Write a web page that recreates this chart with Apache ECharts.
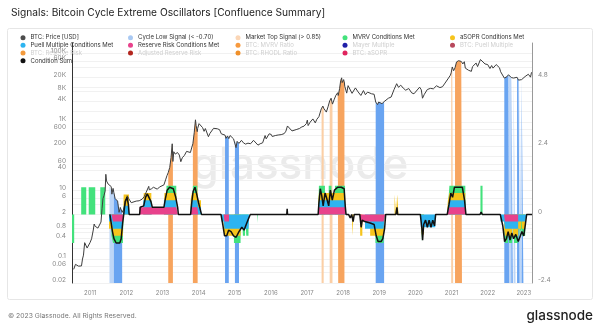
<!DOCTYPE html>
<html><head><meta charset="utf-8">
<script src="https://cdn.jsdelivr.net/npm/echarts@6/dist/echarts.min.js"></script>
<style>html,body{margin:0;padding:0;background:#fff}#c{width:600px;height:329px}</style>
</head><body><div id="c"></div>
<script>
// ---------------- DATA ----------------
const priceUSD = [
['2010-07-18',0.05],['2010-07-25',0.054],['2010-08-05',0.07],['2010-08-20',0.067],['2010-09-05',0.062],['2010-09-20',0.062],['2010-10-05',0.063],['2010-10-15',0.1],['2010-10-25',0.13],['2010-11-06',0.3],['2010-11-12',0.27],['2010-11-20',0.28],['2010-12-01',0.21],['2010-12-15',0.24],['2010-12-30',0.3],
['2011-01-15',0.39],['2011-02-01',0.7],['2011-02-10',1.05],['2011-02-20',0.9],['2011-03-05',0.9],['2011-03-20',0.8],['2011-04-05',0.72],['2011-04-20',1.2],['2011-05-01',3.0],['2011-05-10',5.8],['2011-05-20',7.0],['2011-06-01',9.6],['2011-06-08',29.6],['2011-06-15',19],['2011-06-22',17],['2011-07-01',15.4],['2011-07-15',13.8],['2011-08-01',13],['2011-08-08',7.8],['2011-08-20',11.5],['2011-08-28',8.7],['2011-09-10',5.8],['2011-09-25',5.1],['2011-10-05',4.9],['2011-10-20',2.3],['2011-11-01',3.2],['2011-11-20',2.3],['2011-12-05',2.8],['2011-12-20',3.9],
['2012-01-10',7],['2012-01-25',5.8],['2012-02-10',5.9],['2012-02-20',4.4],['2012-03-10',4.9],['2012-04-10',4.9],['2012-05-10',5.0],['2012-06-10',5.6],['2012-07-01',6.7],['2012-07-20',8.9],['2012-08-15',13.2],['2012-08-20',10.5],['2012-09-10',11.1],['2012-10-01',12.4],['2012-10-20',11.7],['2012-11-10',10.9],['2012-12-01',12.6],['2012-12-20',13.5],
['2013-01-15',14.5],['2013-02-01',20.4],['2013-02-15',27],['2013-02-28',33.4],['2013-03-15',47],['2013-03-28',90],['2013-04-09',230],['2013-04-16',70],['2013-04-25',135],['2013-05-10',115],['2013-06-01',128],['2013-06-20',108],['2013-07-05',69],['2013-07-20',90],['2013-08-10',105],['2013-09-01',138],['2013-09-20',125],['2013-10-10',128],['2013-10-25',185],['2013-11-04',230],['2013-11-18',500],['2013-11-30',1150],['2013-12-07',780],['2013-12-18',520],['2013-12-22',640],
['2014-01-05',890],['2014-01-25',800],['2014-02-10',680],['2014-02-25',530],['2014-03-10',640],['2014-03-25',580],['2014-04-10',370],['2014-04-25',460],['2014-05-15',460],['2014-06-01',650],['2014-06-20',590],['2014-07-10',630],['2014-08-01',590],['2014-08-18',450],['2014-09-05',490],['2014-09-25',410],['2014-10-05',330],['2014-10-20',390],['2014-11-02',325],['2014-11-15',400],['2014-12-01',380],['2014-12-20',320],
['2015-01-03',285],['2015-01-14',178],['2015-01-25',270],['2015-02-13',236],['2015-03-10',290],['2015-03-30',245],['2015-04-20',225],['2015-05-15',240],['2015-06-10',230],['2015-07-10',290],['2015-07-30',285],['2015-08-24',210],['2015-09-15',230],['2015-10-10',245],['2015-11-04',400],['2015-11-15',320],['2015-12-15',450],
['2016-01-05',430],['2016-01-15',375],['2016-02-15',400],['2016-03-15',415],['2016-04-15',425],['2016-05-15',455],['2016-06-01',535],['2016-06-17',760],['2016-07-01',675],['2016-08-02',545],['2016-08-20',580],['2016-09-20',605],['2016-10-15',640],['2016-11-10',715],['2016-12-01',750],['2016-12-25',890],
['2017-01-04',1130],['2017-01-12',780],['2017-02-01',980],['2017-03-01',1220],['2017-03-25',935],['2017-04-10',1190],['2017-05-01',1420],['2017-05-25',2400],['2017-05-28',2200],['2017-06-10',2900],['2017-06-18',2500],['2017-07-01',2450],['2017-07-15',1930],['2017-08-01',2750],['2017-08-18',4100],['2017-09-01',4900],['2017-09-15',3300],['2017-10-01',4400],['2017-10-20',6000],['2017-11-07',7100],['2017-11-12',5900],['2017-11-26',9300],['2017-12-07',16000],['2017-12-17',19300],['2017-12-22',14000],
['2018-01-06',17100],['2018-01-14',13600],['2018-01-17',11000],['2018-02-06',6900],['2018-02-20',11400],['2018-03-05',11500],['2018-04-01',6800],['2018-05-05',9800],['2018-06-01',7500],['2018-06-29',5900],['2018-07-25',8200],['2018-08-14',6200],['2018-09-05',7400],['2018-09-15',6500],['2018-10-15',6600],['2018-11-10',6400],['2018-11-26',3800],['2018-12-15',3200],['2018-12-26',3800],
['2019-01-10',3600],['2019-01-29',3400],['2019-02-19',3900],['2019-03-10',3900],['2019-04-03',4900],['2019-05-01',5300],['2019-05-30',8700],['2019-06-26',13000],['2019-07-15',10200],['2019-08-06',11800],['2019-09-01',9600],['2019-09-25',8400],['2019-10-26',9400],['2019-11-25',7000],['2019-12-18',6600],
['2020-01-01',7200],['2020-02-13',10300],['2020-03-01',8600],['2020-03-13',4900],['2020-04-01',6400],['2020-05-01',8800],['2020-06-01',9500],['2020-07-01',9200],['2020-08-01',11300],['2020-09-05',10000],['2020-10-01',10600],['2020-10-21',12800],['2020-11-01',13700],['2020-12-01',19000],['2020-12-20',23000],['2020-12-28',27000],
['2021-01-08',40000],['2021-01-17',36000],['2021-01-22',31000],['2021-02-05',38000],['2021-02-20',56000],['2021-03-13',61000],['2021-04-09',58000],['2021-04-14',63000],['2021-04-16',61500],['2021-04-25',49000],['2021-05-10',57000],['2021-05-20',37000],['2021-06-22',32000],['2021-07-20',29800],['2021-08-01',41000],['2021-09-06',52000],['2021-09-21',41000],['2021-10-20',66000],['2021-11-09',67500],['2021-12-05',49000],
['2022-01-01',47000],['2022-01-24',36000],['2022-02-10',44000],['2022-02-24',37000],['2022-03-28',47000],['2022-04-30',38000],['2022-05-12',29000],['2022-06-01',31000],['2022-06-18',19000],['2022-07-01',19300],['2022-07-15',20800],['2022-07-30',23800],['2022-08-05',22900],['2022-08-15',24300],['2022-08-28',19600],['2022-09-12',22300],['2022-09-20',19000],['2022-10-10',19100],['2022-10-25',20000],['2022-11-05',21300],['2022-11-09',16500],['2022-11-20',16300],['2022-12-10',17100],['2022-12-28',16600],
['2023-01-14',21000],['2023-02-01',23000],['2023-02-16',24500],['2023-03-10',20200],['2023-03-20',28000],['2023-03-25',27500]
];

// signal windows [start, end]
const cycleLowSignal = [['2011-08-28','2011-11-20'],['2014-09-25','2014-11-02'],['2015-01-03','2015-02-13'],['2018-11-26','2019-02-19'],['2022-06-18','2022-08-05'],['2022-08-28','2022-09-12'],['2022-10-25','2022-11-20'],['2022-12-10','2022-12-28']];
const cycleLowWeak = [['2011-07-15','2011-08-28'],['2022-08-05','2022-08-28'],['2022-09-20','2022-10-10'],['2022-11-20','2022-12-10']];
const marketTopSignal = [['2013-02-28','2013-04-16'],['2013-11-04','2013-12-22'],['2017-11-07','2018-01-14'],['2021-02-05','2021-04-16']];
const marketTopWeak = [['2017-05-28','2017-06-18'],['2017-08-18','2017-09-15'],['2020-12-28','2021-01-17']];

// conditions met [start, end, value]
const reserveRiskMet = [['2011-08-20','2011-11-28',-0.25],['2012-05-15','2013-06-05',0.25],['2013-10-25','2013-12-28',0.25],['2014-09-20','2014-11-05',-0.25],['2017-04-25','2018-01-25',0.25],['2018-06-20','2019-03-01',-0.25],['2020-12-10','2021-05-20',0.25],['2022-06-25','2022-11-05',-0.25]];
const puellMet = [['2011-07-10','2011-12-05',-0.25],['2011-12-05','2012-01-28',0.3],['2012-06-20','2012-09-15',0.25],['2013-01-15','2013-05-25',0.25],['2013-10-12','2014-01-28',0.25],['2014-08-20','2014-11-05',-0.25],['2014-11-05','2015-05-27',-0.5],['2017-05-01','2018-01-25',0.25],['2018-08-10','2019-02-25',-0.25],['2020-02-25','2020-07-20',-0.45],['2020-11-25','2021-05-25',0.25],['2022-05-10','2023-01-28',-0.25]];
const asoprMet = [['2011-07-10','2011-12-05',-0.25],['2011-12-05','2012-01-28',0.4],['2012-06-25','2012-09-10',0.25],['2013-01-20','2013-05-20',0.25],['2013-10-12','2014-01-25',0.25],['2014-09-10','2015-03-01',-0.25],['2017-04-25','2018-01-25',0.25],['2018-04-02','2018-04-18',-0.75],['2018-06-22','2018-07-14',-0.5],['2018-10-01','2019-02-25',-0.25],['2019-06-05','2019-06-20',0.7],['2019-07-01','2019-07-15',0.7],['2020-03-05','2020-03-30',-0.25],['2020-11-20','2021-05-20',0.25],['2022-06-15','2022-09-05',-0.25],['2022-09-15','2022-12-05',-0.25],['2022-12-15','2023-01-15',-0.25]];
const mvrvMet = [['2010-07-01','2010-07-23',-1],['2010-10-02','2010-11-22',0.95],['2010-12-17','2011-02-21',0.95],['2011-04-13','2011-06-02',0.95],['2011-08-04','2011-12-05',-0.25],['2013-02-10','2013-05-20',0.25],['2013-11-04','2013-12-18',0.25],['2014-12-24','2015-03-15',-0.25],['2015-03-25','2015-04-15',-0.25],['2015-04-28','2015-05-20',-0.25],['2015-08-15','2015-08-22',-0.3],['2017-05-01','2017-07-01',0.25],['2017-08-08','2017-09-05',0.25],['2017-10-10','2018-01-20',0.25],['2018-11-24','2019-02-14',-0.25],['2020-03-08','2020-03-28',-0.25],['2020-12-10','2021-05-25',0.25],['2021-10-20','2021-11-10',1.0],['2022-06-20','2022-07-25',-0.25],['2022-08-05','2022-09-10',-0.25],['2022-09-25','2022-11-10',-0.25],['2022-11-20','2023-01-15',-0.25]];

const conditionSum = [
['2011-07-19',0],['2011-08-14',-0.6],['2011-08-29',-0.85],['2011-09-20',-1.0],['2011-10-27',-1.0],['2011-11-10',-0.85],['2011-11-25',-0.3],['2011-12-06',0],['2011-12-20',0.45],['2012-01-08',0.6],['2012-01-22',0.35],['2012-01-30',0],
['2012-05-15',0],['2012-05-20',0.25],['2012-06-25',0.3],['2012-07-13',0.6],['2012-07-31',0.72],['2012-08-18',0.7],['2012-09-06',0.45],['2012-09-20',0.25],['2013-01-15',0.25],['2013-01-30',0.55],['2013-02-17',0.85],['2013-03-14',0.95],['2013-04-20',0.9],['2013-05-15',0.6],['2013-06-03',0.25],['2013-06-10',0],
['2013-10-12',0],['2013-10-23',0.4],['2013-11-06',0.8],['2013-11-25',0.95],['2013-12-13',0.7],['2014-01-01',0.4],['2014-01-19',0.15],['2014-01-30',0],
['2014-08-15',0],['2014-09-02',-0.35],['2014-09-20',-0.75],['2014-10-12',-0.75],['2014-10-31',-0.55],['2014-11-25',-0.6],['2014-12-20',-0.75],['2015-01-15',-0.8],['2015-02-13',-0.6],['2015-03-14',-0.45],['2015-04-05',-0.55],['2015-04-27',-0.35],['2015-05-20',-0.15],['2015-06-07',0],
['2016-06-10',0],['2016-06-14',0.2],['2016-06-18',0],
['2017-04-23',0],['2017-05-01',0.4],['2017-05-15',0.9],['2017-05-30',0.65],['2017-06-13',0.3],['2017-07-02',0.75],['2017-07-20',0.55],['2017-08-08',0.3],['2017-08-25',0.85],['2017-09-13',0.5],['2017-10-05',0.85],['2017-11-06',0.95],['2017-12-13',0.95],['2018-01-11',0.9],['2018-01-22',0.3],['2018-01-30',0],
['2018-02-24',0],['2018-03-14',-0.12],['2018-03-28',0],['2018-04-12',-0.25],['2018-04-23',0],['2018-06-18',0],['2018-07-02',-0.45],['2018-07-13',-0.2],['2018-08-08',-0.25],['2018-10-01',-0.3],['2018-11-10',-0.35],['2018-12-01',-0.75],['2018-12-20',-0.95],['2019-01-19',-0.95],['2019-02-06',-0.85],['2019-02-24',-0.5],['2019-03-07',0],
['2019-06-18',0],['2019-06-29',0.25],['2019-07-05',0],
['2020-02-20',0],['2020-03-07',-0.5],['2020-03-14',-0.9],['2020-03-25',-0.35],['2020-04-13',-0.2],['2020-05-01',-0.45],['2020-05-19',-0.2],['2020-06-07',-0.45],['2020-06-25',-0.2],['2020-07-13',-0.4],['2020-07-24',0],
['2020-11-18',0],['2020-12-06',0.35],['2020-12-24',0.75],['2021-01-11',0.6],['2021-01-30',0.95],['2021-03-14',0.95],['2021-04-20',0.95],['2021-05-12',0.5],['2021-05-26',0],
['2021-10-16',0],['2021-10-27',0.08],['2021-11-07',0],
['2022-05-08',0],['2022-06-03',-0.4],['2022-06-21',-0.95],['2022-07-09',-0.85],['2022-07-27',-0.6],['2022-08-15',-0.9],['2022-09-02',-0.65],['2022-09-20',-0.85],['2022-10-12',-0.7],['2022-11-06',-0.95],['2022-11-25',-0.9],['2022-12-13',-0.6],['2023-01-01',-0.75],['2023-01-19',-0.3],['2023-01-30',0],['2023-03-25',0]
];

const yearTicks = ['2011','2012','2013','2014','2015','2016','2017','2018','2019','2020','2021','2022','2023'];
const priceTickLabels = [0.02,0.06,0.1,0.4,0.8,2,6,10,40,60,200,600,1000,4000,8000,20000,60000,100000];
const priceGridValues = [0.02,0.04,0.06,0.1,0.2,0.4,0.6,0.8,1,2,4,6,10,20,40,60,100,200,400,600,1000,2000,4000,8000,10000,20000,40000,60000,100000];
const sumTickLabels = [-2.4,0,2.4,4.8];

// ---------------- BUILD ----------------
const ts = s => new Date(s + 'T00:00:00').getTime();
const priceData = priceUSD.map(([d,v]) => [ts(d), v]);

function bandData(periods){
  const out = [];
  periods.forEach(([s,e]) => {
    const a = ts(s), b = ts(e);
    priceData.forEach(p => { if (p[0] >= a && p[0] <= b) out.push(p); });
    out.push([b + 3600000, '-']);
  });
  return out;
}

// stacking order from the zero line outward
const condDefs = [
  {name:'Reserve Risk Conditions Met', periods: reserveRiskMet, color:'#e8428c'},
  {name:'Puell Multiple Conditions Met', periods: puellMet, color:'#2db4f0'},
  {name:'aSOPR Conditions Met', periods: asoprMet, color:'#f6c41c'},
  {name:'MVRV Conditions Met', periods: mvrvMet, color:'#43e27c'}
];
const gset = new Set([ts('2010-07-01'), ts('2023-03-25')]);
condDefs.forEach(c => c.periods.forEach(p => { gset.add(ts(p[0])); gset.add(ts(p[1])); }));
const tgrid = [...gset].sort((a,b) => a - b);
function valueAt(periods, t){
  for (const p of periods) { if (t >= ts(p[0]) && t < ts(p[1])) return p[2]; }
  return 0;
}
// same-sign cumulative stack (each layer drawn from 0, outer layers first)
const layerData = condDefs.map(() => []);
tgrid.forEach(t => {
  let pos = 0, neg = 0;
  condDefs.forEach((c, k) => {
    const v = valueAt(c.periods, t);
    let top = 0;
    if (v > 0) { pos += v; top = pos; }
    else if (v < 0) { neg += v; top = neg; }
    layerData[k].push([t, top]);
  });
});

const inactive = {
  'BTC: MVRV Ratio':'#f79a3e','Mayer Multiple':'#1f1fa8','BTC: Puell Multiple':'#b8485c',
  'BTC: Reserve Risk':'#f39a3c','Adjusted Reserve Risk':'#b3261e','BTC: RHODL Ratio':'#f0902a','BTC: aSOPR':'#e0245e'
};
const legendColor = Object.assign({
  'BTC: Price [USD]':'#4d4d4d','Cycle Low Signal (< -0.70)':'#a9c9f3','Market Top Signal (> 0.85)':'#fbd6b6',
  'MVRV Conditions Met':'#43e27c','aSOPR Conditions Met':'#f6c41c','Puell Multiple Conditions Met':'#2db4f0',
  'Reserve Risk Conditions Met':'#e8428c','Condition Sum':'#111'
}, inactive);
const legendCols = [
  ['BTC: Price [USD]','Puell Multiple Conditions Met','BTC: Reserve Risk','Condition Sum'],
  ['Cycle Low Signal (< -0.70)','Reserve Risk Conditions Met','Adjusted Reserve Risk'],
  ['Market Top Signal (> 0.85)','BTC: MVRV Ratio','BTC: RHODL Ratio'],
  ['MVRV Conditions Met','Mayer Multiple','BTC: aSOPR'],
  ['aSOPR Conditions Met','BTC: Puell Multiple']
];
const legendLeft = [20.5, 128, 235.5, 342.5, 450];
const FONT = 'Inter, "Noto Sans", sans-serif';

const series = [];
const bandSeries = (name, periods, color) => ({
  name, type:'line', data: bandData(periods), xAxisIndex:0, yAxisIndex:0, showSymbol:false, symbol:'none',
  lineStyle:{width:0}, areaStyle:{color, opacity:1, origin:'start'}, z:1, silent:true, connectNulls:false
});
series.push(bandSeries('cycleLowWeak', cycleLowWeak, '#bdd6f7'));
series.push(bandSeries('marketTopWeak', marketTopWeak, '#fbcfa6'));
series.push(bandSeries('Cycle Low Signal (< -0.70)', cycleLowSignal, '#69a4f1'));
series.push(bandSeries('Market Top Signal (> 0.85)', marketTopSignal, '#f7a45e'));
for (let k = condDefs.length - 1; k >= 0; k--) {
  const c = condDefs[k];
  series.push({
    name:c.name, type:'line', yAxisIndex:1, step:'end', data: layerData[k], symbol:'none', showSymbol:false,
    lineStyle:{width:0}, areaStyle:{color:c.color, opacity:1, origin:0}, z:2, silent:true
  });
}
series.push({name:'BTC: Price [USD]', type:'line', yAxisIndex:0, data: priceData, symbol:'none', showSymbol:false,
  lineStyle:{color:'#3d3d3d', width:1}, z:3});
series.push({name:'Condition Sum', type:'line', yAxisIndex:1, data: conditionSum.map(([d,v]) => [ts(d), v]), symbol:'none', showSymbol:false,
  lineStyle:{color:'#111', width:1.5}, z:4});
Object.keys(inactive).forEach(n => series.push({name:n, type:'line', data:[], itemStyle:{color:inactive[n]}}));

const fmtPrice = v => { const x = Number(v.toPrecision(3)); return x >= 1000 ? (x/1000) + 'K' : String(x); };

const option = {
  animation:false,
  textStyle:{fontFamily:FONT},
  title:{text:'Signals: Bitcoin Cycle Extreme Oscillators [Confluence Summary]', left:6, top:3,
    textStyle:{fontSize:10.2, fontWeight:'normal', color:'#222', fontFamily:FONT}},
  grid:{left:72, right:68, top:43, bottom:46, containLabel:false},
  legend: legendCols.map((col,i) => ({
    orient:'vertical', left:legendLeft[i], top:33.8, itemGap:0, itemWidth:5, itemHeight:5, icon:'circle',
    selectedMode:false, padding:0,
    textStyle:{fontSize:6, lineHeight:7.7, color:'#333', fontFamily:FONT},
    data: col.map(n => ({name:n, itemStyle:{color:legendColor[n]},
      textStyle:{fontSize:6, lineHeight:7.7, fontFamily:FONT, color: inactive[n] ? '#cfcfcf' : '#333'}}))
  })),
  xAxis:{type:'value', min:ts('2010-07-01'), max:ts('2023-03-25'), scale:true,
    axisLine:{show:false}, axisTick:{show:false}, splitLine:{show:false},
    axisLabel:{customValues: yearTicks.map(y => ts(y + '-01-01')), formatter: v => String(new Date(v).getFullYear()),
      fontSize:6, color:'#888', margin:7, fontFamily:FONT}},
  yAxis:[
    {type:'log', logBase:10, min:0.02, max:200000, position:'left',
      axisLine:{show:true, lineStyle:{color:'#333', width:1}},
      axisTick:{show:false, customValues: priceGridValues},
      splitLine:{show:true, lineStyle:{color:'#f1f1f1', width:1}},
      axisLabel:{customValues: priceTickLabels, formatter: fmtPrice, fontSize:6.5, color:'#888', margin:6, fontFamily:FONT,
        verticalAlign:'bottom', lineHeight:5}},
    {type:'value', min:-2.4, max:6, position:'right',
      axisLine:{show:true, lineStyle:{color:'#999', width:1}},
      axisTick:{show:false}, splitLine:{show:false},
      axisLabel:{customValues: sumTickLabels, formatter: v => String(Number(v.toFixed(1))), fontSize:6.5, color:'#888', margin:6, fontFamily:FONT,
        verticalAlign:'bottom', lineHeight:5}}
  ],
  graphic:[
    {type:'rect', z:-10, shape:{x:7.5, y:28.5, width:585, height:271, r:2}, style:{fill:'none', stroke:'#e6e6e6', lineWidth:1}, silent:true},
    {type:'text', z:0, x:300, y:166, silent:true, style:{text:'glassnode', fill:'#ebebeb', font:'500 44px Inter, sans-serif', align:'center', verticalAlign:'middle'}},
    {type:'text', x:8, y:316, silent:true, style:{text:'© 2023 Glassnode. All Rights Reserved.', fill:'#777', font:'6.8px Inter, sans-serif', verticalAlign:'middle'}},
    {type:'text', x:593, y:316, silent:true, style:{text:'glassnode', fill:'#1e1e1e', font:'500 13.5px Inter, sans-serif', align:'right', verticalAlign:'middle'}}
  ],
  series
};
const chart = echarts.init(document.getElementById('c'), null, {renderer:'canvas'});
chart.setOption(option);
</script></body></html>
